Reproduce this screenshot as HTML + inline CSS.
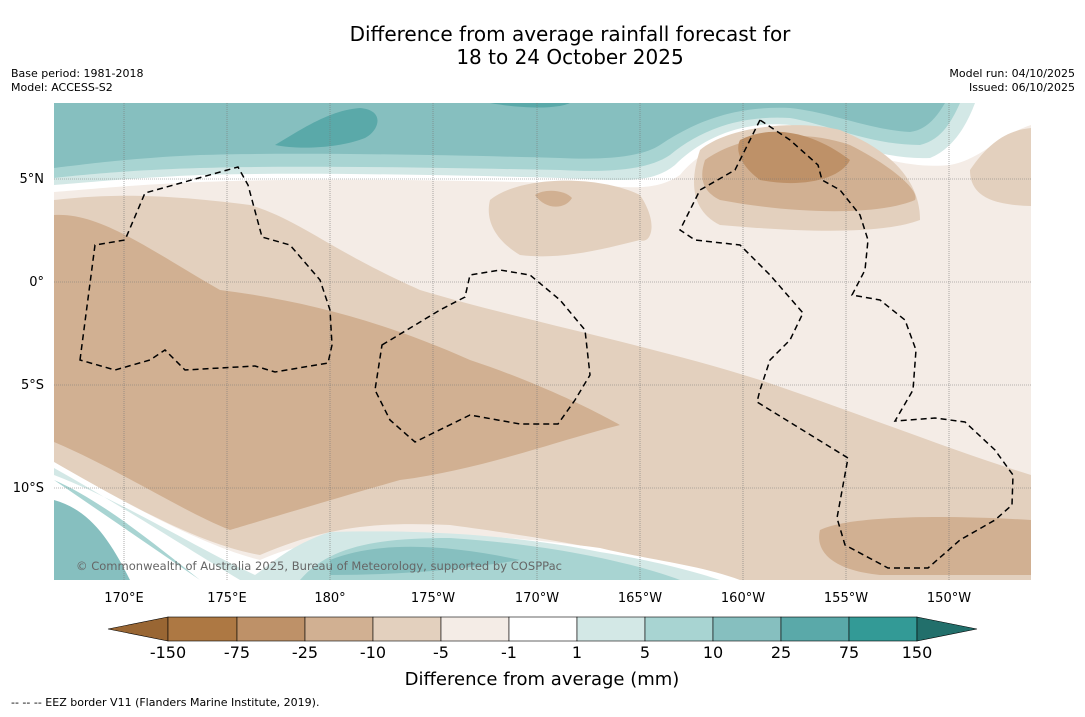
<!DOCTYPE html>
<html><head><meta charset="utf-8"><style>
body{margin:0;background:#fff;font-family:"DejaVu Sans","Liberation Sans",sans-serif}
svg text{font-family:"DejaVu Sans","Liberation Sans",sans-serif}
</style></head><body>
<svg width="1085" height="713" viewBox="0 0 1085 713">
<defs><clipPath id="mc"><rect x="54" y="103" width="977" height="477"/></clipPath></defs>
<text x="570" y="41" font-size="20" text-anchor="middle">Difference from average rainfall forecast for</text>
<text x="570" y="64" font-size="20" text-anchor="middle">18 to 24 October 2025</text>
<text x="11" y="77" font-size="11">Base period: 1981-2018</text>
<text x="11" y="91" font-size="11">Model: ACCESS-S2</text>
<text x="1075" y="77" font-size="11" text-anchor="end">Model run: 04/10/2025</text>
<text x="1075" y="91" font-size="11" text-anchor="end">Issued: 06/10/2025</text>
<g clip-path="url(#mc)">
<rect x="54" y="103" width="977" height="477" fill="#f4ece6"/>
<path d="M54,103 H1031 V125 C1000,135 980,160 950,165 C900,170 860,150 800,135 C740,128 700,150 680,175 C650,195 620,185 560,183 C450,180 300,178 200,182 C130,185 80,190 54,192 Z" fill="#fff"/>
<path d="M54,103 H975 C965,130 950,150 930,158 C880,160 840,140 790,125 C740,120 700,140 675,165 C650,185 620,180 560,178 C450,175 300,172 200,175 C130,178 80,183 54,185 Z" fill="#d3e8e6"/>
<path d="M54,103 H960 C950,125 940,140 920,145 C870,145 830,125 790,118 C740,115 700,130 670,155 C645,172 600,172 560,170 C450,168 300,165 200,168 C130,170 80,175 54,178 Z" fill="#a8d4d2"/>
<path d="M54,103 H945 C935,120 925,130 910,132 C870,130 830,112 790,108 C740,106 700,118 660,145 C640,158 600,160 560,158 C450,155 300,152 200,155 C130,158 80,165 54,168 Z" fill="#86bfbf"/>
<path d="M275,145 C300,130 330,110 360,108 C385,110 380,130 365,138 C340,148 300,150 275,145 Z M490,103 H570 C560,108 530,110 490,103 Z" fill="#5aa9a9"/>
<path d="M54,200 C100,195 150,192 250,205 C300,220 330,250 420,290 C520,320 650,345 760,380 C850,410 950,450 1031,475 V580 H720 C650,560 600,545 450,525 C380,522 330,525 260,555 C200,545 120,500 54,462 Z" fill="#e3d0be"/>
<path d="M54,215 C100,212 150,250 220,290 C300,300 380,320 470,360 C560,390 620,425 620,425 C560,440 480,470 400,480 C330,500 230,530 230,530 C180,510 120,470 54,442 Z" fill="#d1b092"/>
<path d="M54,462 C120,500 200,545 260,560 C330,528 450,528 600,548 C650,560 700,565 740,580 H54 Z" fill="#fff"/>
<path d="M54,468 C120,505 190,550 240,580 H720 C690,570 650,560 600,552 C500,532 400,530 330,532 C290,545 270,565 255,575 C200,550 120,500 54,475 Z" fill="#d3e8e6"/>
<path d="M54,480 C100,500 150,540 200,580 H680 C640,565 560,545 450,538 C380,538 330,545 300,580 H200 Z" fill="#a8d4d2"/>
<path d="M54,500 C90,510 110,540 130,580 H54 Z M330,560 C380,540 450,545 520,560 C460,570 400,575 330,575 Z" fill="#86bfbf"/>
<path d="M820,530 C850,515 950,515 1031,520 V575 H880 C830,570 815,550 820,530 Z" fill="#d1b092"/>
<path d="M700,150 C730,125 800,120 840,130 C890,150 920,180 920,220 C880,235 800,232 720,225 C690,210 690,180 700,150 Z" fill="#e3d0be"/>
<path d="M705,160 C740,135 800,128 850,145 C890,165 920,190 915,200 C880,215 800,215 720,200 C700,190 700,175 705,160 Z" fill="#d1b092"/>
<path d="M740,140 C770,125 810,130 850,160 C840,180 800,188 760,180 C740,165 735,150 740,140 Z" fill="#be9168"/>
<path d="M970,170 C990,140 1010,130 1031,128 V206 C1000,205 970,200 970,170 Z" fill="#e3d0be"/>
<path d="M490,200 C520,175 600,175 640,195 C660,225 650,245 640,240 C600,250 560,260 520,255 C495,240 485,220 490,200 Z" fill="#e3d0be"/>
<path d="M535,195 C545,188 565,190 572,198 C565,210 545,210 535,195 Z" fill="#d1b092"/>
<g stroke="#777" stroke-width="0.6" stroke-dasharray="1,1">
<line x1="124" y1="103" x2="124" y2="580"/><line x1="227" y1="103" x2="227" y2="580"/><line x1="330" y1="103" x2="330" y2="580"/><line x1="433" y1="103" x2="433" y2="580"/><line x1="537" y1="103" x2="537" y2="580"/><line x1="640" y1="103" x2="640" y2="580"/><line x1="743" y1="103" x2="743" y2="580"/><line x1="846" y1="103" x2="846" y2="580"/><line x1="949" y1="103" x2="949" y2="580"/>
<line x1="54" y1="179" x2="1031" y2="179"/><line x1="54" y1="282" x2="1031" y2="282"/><line x1="54" y1="385" x2="1031" y2="385"/><line x1="54" y1="488" x2="1031" y2="488"/>
</g>
<g fill="none" stroke="#000" stroke-width="1.5" stroke-dasharray="6,4">
<path d="M80,360 L95,245 L125,240 L145,193 L238,167 L248,185 L262,237 L290,245 L320,280 L330,310 L332,345 L328,363 L275,372 L255,366 L185,370 L165,350 L150,360 L115,370 Z"/>
<path d="M382,345 L440,310 L465,297 L470,275 L500,270 L530,275 L560,300 L585,330 L590,375 L575,400 L558,424 L520,424 L470,415 L415,442 L390,420 L375,390 Z"/>
<path d="M760,120 L735,170 L700,190 L680,230 L695,240 L740,245 L770,275 L803,313 L790,340 L770,360 L760,390 L757,402 L848,458 L837,518 L845,545 L888,568 L928,568 L960,540 L995,520 L1012,505 L1013,475 L995,450 L965,422 L935,418 L895,421 L913,390 L916,350 L905,320 L880,300 L852,295 L865,270 L868,240 L860,215 L840,190 L822,180 L818,165 L790,140 Z"/>
</g>
<text x="76" y="570" font-size="11.5" fill="#666" textLength="486">© Commonwealth of Australia 2025, Bureau of Meteorology, supported by COSPPac</text>
</g>
<g font-size="13">
<text x="44" y="183" text-anchor="end">5°N</text><text x="44" y="286" text-anchor="end">0°</text><text x="44" y="389" text-anchor="end">5°S</text><text x="44" y="492" text-anchor="end">10°S</text></g>
<g font-size="13" text-anchor="middle">
<text x="124" y="602">170°E</text><text x="227" y="602">175°E</text><text x="330" y="602">180°</text><text x="433" y="602">175°W</text><text x="537" y="602">170°W</text><text x="640" y="602">165°W</text><text x="743" y="602">160°W</text><text x="846" y="602">155°W</text><text x="949" y="602">150°W</text></g>
<g stroke="#000" stroke-width="0.6">
<polygon points="108,629 168,617 168,641" fill="#996633"/>
<rect x="168" y="617" width="69" height="24" fill="#ad7843"/>
<rect x="237" y="617" width="68" height="24" fill="#be9168"/>
<rect x="305" y="617" width="68" height="24" fill="#d1b092"/>
<rect x="373" y="617" width="68" height="24" fill="#e3d0be"/>
<rect x="441" y="617" width="68" height="24" fill="#f4ece6"/>
<rect x="509" y="617" width="68" height="24" fill="#ffffff"/>
<rect x="577" y="617" width="68" height="24" fill="#d3e8e6"/>
<rect x="645" y="617" width="68" height="24" fill="#a8d4d2"/>
<rect x="713" y="617" width="68" height="24" fill="#86bfbf"/>
<rect x="781" y="617" width="68" height="24" fill="#5aa9a9"/>
<rect x="849" y="617" width="68" height="24" fill="#339a96"/>
<polygon points="917,617 977,629 917,641" fill="#226f6b"/>
</g>
<g font-size="16" text-anchor="middle">
<text x="168" y="658">-150</text><text x="237" y="658">-75</text><text x="305" y="658">-25</text><text x="373" y="658">-10</text><text x="441" y="658">-5</text><text x="509" y="658">-1</text><text x="577" y="658">1</text><text x="645" y="658">5</text><text x="713" y="658">10</text><text x="781" y="658">25</text><text x="849" y="658">75</text><text x="917" y="658">150</text></g>
<text x="542" y="685" font-size="18" text-anchor="middle">Difference from average (mm)</text>
<text x="11" y="706" font-size="11">--  --  -- EEZ border V11 (Flanders Marine Institute, 2019).</text>
</svg>
</body></html>
